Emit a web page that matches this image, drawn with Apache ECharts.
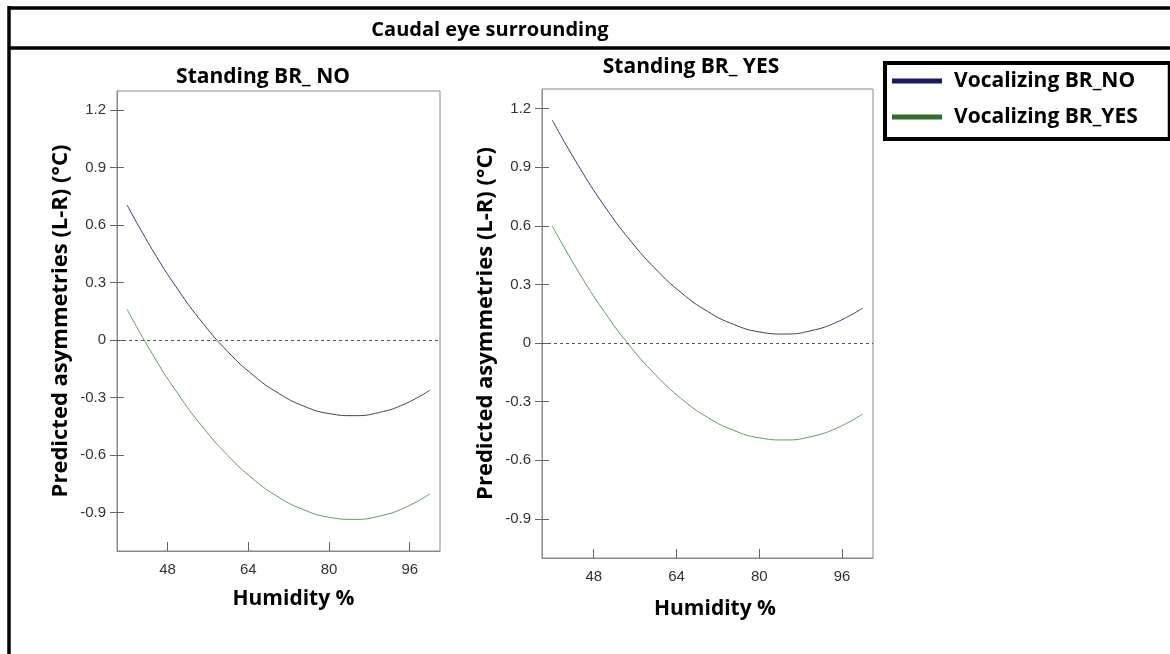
<!DOCTYPE html>
<html>
<head>
<meta charset="utf-8">
<script src="https://cdn.jsdelivr.net/npm/echarts@6/dist/echarts.min.js"></script>
<style>
html,body{margin:0;padding:0;background:#fff;}
#chart{width:1170px;height:654px;}
</style>
</head>
<body>
<div id="chart"></div>
<script>
// ---- data ----
const mainTitle = 'Caudal eye surrounding';
const panelTitles = ['Standing BR_ NO', 'Standing BR_ YES'];
const seriesNames = ['Vocalizing BR_NO', 'Vocalizing BR_YES'];
const yAxisTitle = 'Predicted asymmetries (L-R) (°C)';
const xAxisTitle = 'Humidity %';
const humidity = [40, 45, 50, 55, 60, 65, 70, 75, 80, 85, 90, 95, 100];
// Standing BR_NO panel
const leftNo  = [0.705, 0.472, 0.267, 0.089, -0.061, -0.183, -0.277, -0.344, -0.383, -0.394, -0.377, -0.333, -0.261];
const leftYes = [0.161, -0.072, -0.277, -0.454, -0.603, -0.725, -0.819, -0.885, -0.924, -0.935, -0.918, -0.874, -0.802];
// Standing BR_YES panel
const rightNo  = [1.140, 0.909, 0.704, 0.527, 0.378, 0.256, 0.162, 0.096, 0.057, 0.046, 0.063, 0.107, 0.179];
const rightYes = [0.598, 0.367, 0.162, -0.015, -0.164, -0.286, -0.380, -0.446, -0.485, -0.496, -0.479, -0.435, -0.363];
const xTicks = [48, 64, 80, 96];
const yTicks = [-0.9, -0.6, -0.3, 0, 0.3, 0.6, 0.9, 1.2];
const xRange = [38, 102];
const yRange = [-1.1, 1.3];

// ---- styling ----
const colNo = '#3c3c70';
const colYes = '#5f9c5f';
const legNo = '#1b1b5e';
const legYes = '#2f6e2f';
const axisCol = '#8a8a8a';
const labelFont = 'Liberation Sans, Arial, sans-serif';
const titleFont = 'Open Sans, Noto Sans, sans-serif';

const chart = echarts.init(document.getElementById('chart'), null, {renderer: 'canvas'});

const grids = [
  {left: 117, right: 730, top: 91, bottom: 103, show: true, borderColor: axisCol, borderWidth: 1},
  {left: 542, right: 297, top: 89, bottom: 96, show: true, borderColor: axisCol, borderWidth: 1}
];

function pairs(xs, ys) { return xs.map((x, i) => [x, ys[i]]); }

function xAxisFor(gi, gap, padL) {
  return {
    type: 'value', gridIndex: gi, min: xRange[0], max: xRange[1],
    splitLine: {show: false},
    axisLine: {show: true, onZero: false, lineStyle: {color: axisCol, width: 1}},
    axisTick: {show: true, inside: true, length: 9, lineStyle: {color: '#666'}, customValues: xTicks},
    axisLabel: {show: true, margin: 11, color: '#333', fontSize: 15, fontFamily: labelFont, customValues: xTicks},
    name: xAxisTitle, nameLocation: 'middle', nameGap: gap,
    nameTextStyle: {fontSize: 21, fontWeight: 'bold', color: '#000', fontFamily: titleFont, padding: [0, 0, 0, padL]}
  };
}
function yAxisFor(gi, gap) {
  return {
    type: 'value', gridIndex: gi, min: yRange[0], max: yRange[1],
    splitLine: {show: false},
    axisLine: {show: true, onZero: false, lineStyle: {color: axisCol, width: 1}},
    axisTick: {show: true, inside: true, length: 7, lineStyle: {color: '#666'}, customValues: yTicks},
    axisLabel: {show: true, margin: 11, color: '#333', fontSize: 15, fontFamily: labelFont, customValues: yTicks,
      formatter: v => String(v)},
    name: yAxisTitle, nameLocation: 'middle', nameGap: gap, nameRotate: 90,
    nameTextStyle: {fontSize: 22, fontWeight: 'bold', color: '#000', fontFamily: titleFont}
  };
}
function yAxisOuterTicks(gi) {
  return {
    type: 'value', gridIndex: gi, min: yRange[0], max: yRange[1], position: 'left', offset: 0,
    splitLine: {show: false},
    axisLine: {show: false, onZero: false},
    axisTick: {show: true, inside: false, length: 7, lineStyle: {color: '#666'}, customValues: yTicks},
    axisLabel: {show: false}
  };
}

function lineSeries(name, xi, yi, data, color, withZero) {
  const s = {
    name: name, type: 'line', xAxisIndex: xi, yAxisIndex: yi,
    data: data, smooth: 0.5, showSymbol: false, symbol: 'none',
    lineStyle: {color: color, width: 1}, itemStyle: {color: color},
    silent: true, animation: false, z: 3
  };
  if (withZero) {
    s.markLine = {
      silent: true, symbol: ['none', 'none'], animation: false,
      label: {show: false},
      lineStyle: {color: '#555', width: 1, type: [3, 3]},
      data: [{yAxis: 0}]
    };
  }
  return s;
}

const option = {
  backgroundColor: '#fff',
  animation: false,
  grid: grids,
  xAxis: [xAxisFor(0, 38, 30), xAxisFor(1, 41, 15)],
  yAxis: [yAxisFor(0, 45), yAxisFor(1, 45), yAxisOuterTicks(0), yAxisOuterTicks(1)],
  legend: {
    orient: 'vertical', left: 885, top: 63,
    backgroundColor: '#fff',
    borderColor: '#000', borderWidth: 4,
    padding: [6, 32, 10, 7],
    itemWidth: 50, itemHeight: 5, itemGap: 12,
    icon: 'rect',
    selectedMode: false,
    textStyle: {fontSize: 21, fontWeight: 'bold', color: '#000', fontFamily: titleFont, lineHeight: 24, padding: [0, 0, 0, 7]},
    data: [
      {name: seriesNames[0], itemStyle: {color: legNo}},
      {name: seriesNames[1], itemStyle: {color: legYes}}
    ]
  },
  graphic: [
    {type: 'line', shape: {x1: 9, y1: 8, x2: 1170, y2: 8}, style: {stroke: '#000', lineWidth: 3.5}, silent: true},
    {type: 'line', shape: {x1: 9, y1: 48, x2: 1170, y2: 48}, style: {stroke: '#000', lineWidth: 3.5}, silent: true},
    {type: 'line', shape: {x1: 9, y1: 6, x2: 9, y2: 654}, style: {stroke: '#000', lineWidth: 3.5}, silent: true},
    {type: 'text', x: 490, y: 30, style: {text: mainTitle, align: 'center', verticalAlign: 'middle',
      font: 'bold 20px ' + titleFont, fill: '#000'}, silent: true},
    {type: 'text', x: 263, y: 77, style: {text: panelTitles[0], align: 'center', verticalAlign: 'middle',
      font: 'bold 21px ' + titleFont, fill: '#000'}, silent: true},
    {type: 'text', x: 691, y: 67, style: {text: panelTitles[1], align: 'center', verticalAlign: 'middle',
      font: 'bold 21px ' + titleFont, fill: '#000'}, silent: true}
  ],
  series: [
    lineSeries(seriesNames[0], 0, 0, pairs(humidity, leftNo), colNo, true),
    lineSeries(seriesNames[1], 0, 0, pairs(humidity, leftYes), colYes, false),
    lineSeries(seriesNames[0], 1, 1, pairs(humidity, rightNo), colNo, true),
    lineSeries(seriesNames[1], 1, 1, pairs(humidity, rightYes), colYes, false)
  ]
};
chart.setOption(option);
</script>
</body>
</html>
